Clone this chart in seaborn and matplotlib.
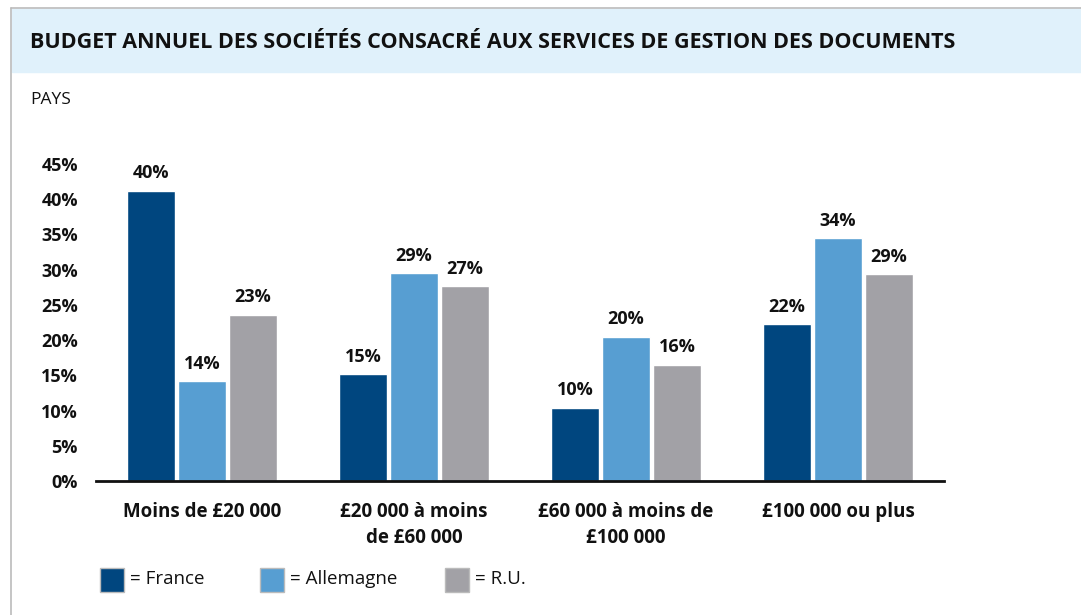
import matplotlib
matplotlib.use('Agg')
import matplotlib.pyplot as plt
from matplotlib.patches import Rectangle
from matplotlib.lines import Line2D
import pandas as pd
import seaborn as sns

categories = ['Moins de £20 000', '£20 000 à moins\nde £60 000',
              '£60 000 à moins de\n£100 000', '£100 000 ou plus']
countries = ['France', 'Allemagne', 'R.U.']
# bar heights (%)
france = [41.2, 15.2, 10.4, 22.3]
allemagne = [14.2, 29.5, 20.5, 34.5]
ru = [23.6, 27.7, 16.5, 29.4]
# printed labels
france_lbl = ['40%', '15%', '10%', '22%']
allemagne_lbl = ['14%', '29%', '20%', '34%']
ru_lbl = ['23%', '27%', '16%', '29%']
yticks = [0, 5, 10, 15, 20, 25, 30, 35, 40, 45]

colors = ['#00467f', '#579ed2', '#a2a1a6']

df = pd.DataFrame({
    'cat': categories * 3,
    'pays': [c for c in countries for _ in categories],
    'val': france + allemagne + ru,
})

sns.set_theme(style='white')
plt.rcParams['font.family'] = ['Open Sans', 'DejaVu Sans']

fig = plt.figure(figsize=(10.81, 6.15), dpi=100)
ax = fig.add_axes([96 / 1081, 1 - 481 / 615, (944 - 96) / 1081, (481 - 164) / 615])

sns.barplot(data=df, x='cat', y='val', hue='pays', palette=colors,
            width=0.72, gap=0.05, saturation=1, legend=False, ax=ax)

for cont, lbl in zip(ax.containers, [france_lbl, allemagne_lbl, ru_lbl]):
    ax.bar_label(cont, labels=lbl, padding=6, fontsize=13, fontweight='bold', color='#111111')

ax.set_xlim(-0.5, 3.5)
ax.set_ylim(0, 45)
ax.set_yticks(yticks)
ax.set_yticklabels([f'{v}%' for v in yticks], fontsize=13, fontweight='bold', color='#111111')
ax.tick_params(axis='y', length=0, pad=13)
ax.set_xticks([0, 1, 2, 3])
ax.set_xticklabels(categories, fontsize=13.5, fontweight='bold', color='#111111', linespacing=1.4)
ax.tick_params(axis='x', which='major', length=0, pad=15)
ax.set_xticks([-0.5, 0.5, 1.5, 2.5, 3.5], minor=True)
ax.tick_params(axis='x', which='minor', length=5, width=2, color='#111111', direction='out')
ax.set_xlabel('')
ax.set_ylabel('')
for s in ['top', 'right', 'left']:
    ax.spines[s].set_visible(False)
ax.spines['bottom'].set_linewidth(2)
ax.spines['bottom'].set_color('#111111')

# header band and frame
fig.patches.append(Rectangle((12 / 1081, 1 - 72 / 615), 1, 63 / 615,
                             transform=fig.transFigure, color='#e0f1fb', zorder=0))
fig.lines.append(Line2D([11 / 1081, 11 / 1081], [0, 1 - 8 / 615], transform=fig.transFigure,
                        color='#bbbbbb', lw=1.2))
fig.lines.append(Line2D([11 / 1081, 1], [1 - 8 / 615, 1 - 8 / 615], transform=fig.transFigure,
                        color='#bbbbbb', lw=1.2))
fig.text(30 / 1081, 1 - 43 / 615, 'BUDGET ANNUEL DES SOCIÉTÉS CONSACRÉ AUX SERVICES DE GESTION DES DOCUMENTS',
         fontsize=15.5, fontweight='bold', va='center', ha='left', color='#111111')
fig.text(30 / 1081, 1 - 100 / 615, 'PAYS', fontsize=12.5, va='center', ha='left', color='#111111')

# legend
leg_x = [100, 260, 445]
for x, c, name in zip(leg_x, colors, countries):
    fig.patches.append(Rectangle((x / 1081, 1 - 592 / 615), 24 / 1081, 24 / 615,
                                 transform=fig.transFigure, facecolor=c,
                                 edgecolor='#bbbbbb', lw=1))
    fig.text((x + 30) / 1081, 1 - 579 / 615, '= ' + name, fontsize=13.5,
             va='center', ha='left', color='#111111')

fig.savefig('out.png', dpi=100)
